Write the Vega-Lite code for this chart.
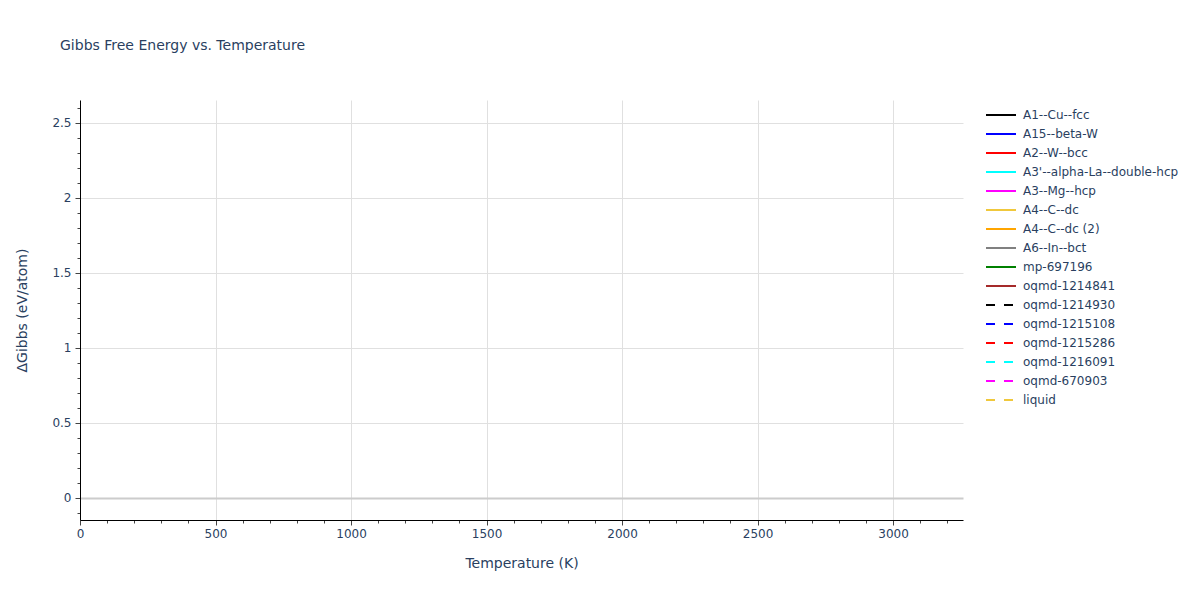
{
  "$schema": "https://vega.github.io/schema/vega-lite/v6.json",
  "autosize": "none",
  "width": 883,
  "height": 420,
  "padding": {"left": 80, "top": 100, "right": 237, "bottom": 80},
  "background": "white",
  "title": {
    "text": "Gibbs Free Energy vs. Temperature",
    "anchor": "start",
    "frame": "group",
    "dx": -20,
    "offset": 47,
    "font": "DejaVu Sans",
    "fontSize": 14,
    "fontWeight": "normal",
    "color": "#2a3f5f"
  },
  "config": {
    "view": {"stroke": null},
    "font": "DejaVu Sans",
    "axis": {
      "labelFont": "DejaVu Sans",
      "titleFont": "DejaVu Sans",
      "labelColor": "#2a3f5f",
      "titleColor": "#2a3f5f",
      "labelFontSize": 12,
      "titleFontSize": 14,
      "titleFontWeight": "normal",
      "domainColor": "#000000",
      "domainWidth": 1,
      "tickColor": "#444444",
      "gridColor": "#e0e0e0",
      "gridWidth": 1
    },
    "legend": {
      "labelFont": "DejaVu Sans",
      "labelFontSize": 12,
      "labelColor": "#2a3f5f"
    }
  },
  "data": {
    "values": [
      {"series": "A1--Cu--fcc", "T": 0, "G": 0},
      {"series": "A15--beta-W", "T": 0, "G": 0},
      {"series": "A2--W--bcc", "T": 0, "G": 0},
      {"series": "A3'--alpha-La--double-hcp", "T": 0, "G": 0},
      {"series": "A3--Mg--hcp", "T": 0, "G": 0},
      {"series": "A4--C--dc", "T": 0, "G": 0},
      {"series": "A4--C--dc (2)", "T": 0, "G": 0},
      {"series": "A6--In--bct", "T": 0, "G": 0},
      {"series": "mp-697196", "T": 0, "G": 0},
      {"series": "oqmd-1214841", "T": 0, "G": 0},
      {"series": "oqmd-1214930", "T": 0, "G": 0},
      {"series": "oqmd-1215108", "T": 0, "G": 0},
      {"series": "oqmd-1215286", "T": 0, "G": 0},
      {"series": "oqmd-1216091", "T": 0, "G": 0},
      {"series": "oqmd-670903", "T": 0, "G": 0},
      {"series": "liquid", "T": 0, "G": 0}
    ]
  },
  "mark": {"type": "line", "strokeWidth": 2, "clip": true},
  "encoding": {
    "x": {
      "field": "T",
      "type": "quantitative",
      "title": "Temperature (K)",
      "scale": {"domain": [0, 3258], "nice": false, "zero": false},
      "axis": {
        "values": [0, 100, 200, 300, 400, 500, 600, 700, 800, 900, 1000, 1100, 1200, 1300, 1400, 1500, 1600, 1700, 1800, 1900, 2000, 2100, 2200, 2300, 2400, 2500, 2600, 2700, 2800, 2900, 3000, 3100, 3200],
        "labelExpr": "datum.value % 500 === 0 ? datum.value : ''",
        "tickSize": {"condition": {"test": "datum.value % 500 === 0", "value": 5}, "value": 3},
        "gridOpacity": {"condition": {"test": "datum.value % 500 === 0", "value": 1}, "value": 0},
        "labelPadding": 3,
        "labelFlush": false,
        "labelOverlap": false,
        "titleY": 43,
        "titleBaseline": "middle"
      }
    },
    "y": {
      "field": "G",
      "type": "quantitative",
      "title": "ΔGibbs (eV/atom)",
      "scale": {"domain": [-0.147, 2.653], "nice": false, "zero": false},
      "axis": {
        "values": [-0.1, 0, 0.1, 0.2, 0.3, 0.4, 0.5, 0.6, 0.7, 0.8, 0.9, 1, 1.1, 1.2, 1.3, 1.4, 1.5, 1.6, 1.7, 1.8, 1.9, 2, 2.1, 2.2, 2.3, 2.4, 2.5, 2.6],
        "labelExpr": "abs(datum.value * 2 - round(datum.value * 2)) < 0.000001 ? format(datum.value, '~g') : ''",
        "tickSize": {"condition": {"test": "abs(datum.value * 2 - round(datum.value * 2)) < 0.000001", "value": 5}, "value": 3},
        "gridOpacity": {"condition": {"test": "abs(datum.value * 2 - round(datum.value * 2)) < 0.000001", "value": 1}, "value": 0},
        "gridColor": {"condition": {"test": "datum.value === 0", "value": "#cccccc"}, "value": "#e0e0e0"},
        "gridWidth": {"condition": {"test": "datum.value === 0", "value": 2}, "value": 1},
        "labelPadding": 4,
        "labelOverlap": false,
        "labelFlush": false,
        "titleX": -58,
        "titleY": 210,
        "titleAlign": "center",
        "titleBaseline": "middle"
      }
    },
    "color": {
      "field": "series",
      "type": "nominal",
      "title": null,
      "scale": {
        "domain": ["A1--Cu--fcc", "A15--beta-W", "A2--W--bcc", "A3'--alpha-La--double-hcp", "A3--Mg--hcp", "A4--C--dc", "A4--C--dc (2)", "A6--In--bct", "mp-697196", "oqmd-1214841", "oqmd-1214930", "oqmd-1215108", "oqmd-1215286", "oqmd-1216091", "oqmd-670903", "liquid"],
        "range": ["#000000", "#0000ff", "#ff0000", "#00ffff", "#ff00ff", "#f0c83c", "#ffa500", "#808080", "#008000", "#a52a2a", "#000000", "#0000ff", "#ff0000", "#00ffff", "#ff00ff", "#f0c83c"]
      },
      "legend": {
        "orient": "none",
        "legendX": 905,
        "legendY": 5.5,
        "symbolType": "stroke",
        "symbolSize": 900,
        "symbolStrokeWidth": 2,
        "labelOffset": 6,
        "clipHeight": 19,
        "rowPadding": 0,
        "padding": 0,
        "labelLimit": 300
      }
    },
    "strokeDash": {
      "field": "series",
      "type": "nominal",
      "scale": {
        "domain": ["A1--Cu--fcc", "A15--beta-W", "A2--W--bcc", "A3'--alpha-La--double-hcp", "A3--Mg--hcp", "A4--C--dc", "A4--C--dc (2)", "A6--In--bct", "mp-697196", "oqmd-1214841", "oqmd-1214930", "oqmd-1215108", "oqmd-1215286", "oqmd-1216091", "oqmd-670903", "liquid"],
        "range": [[1, 0], [1, 0], [1, 0], [1, 0], [1, 0], [1, 0], [1, 0], [1, 0], [1, 0], [1, 0], [9, 9], [9, 9], [9, 9], [9, 9], [9, 9], [9, 9]]
      },
      "legend": null
    }
  }
}
